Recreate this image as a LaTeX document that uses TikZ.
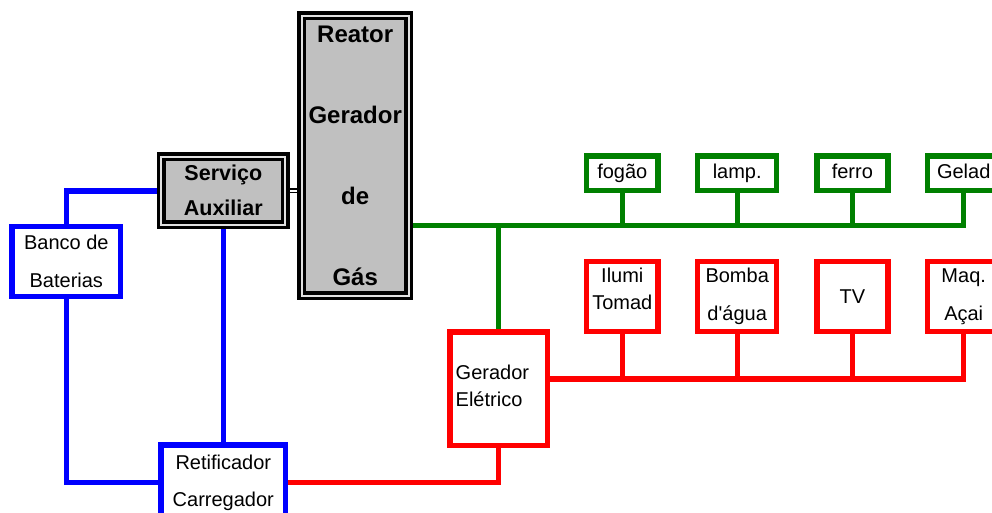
\documentclass[tikz,border=0pt]{standalone}
\usepackage{fontspec}
\setmainfont{Liberation Sans}[Ligatures=TeXOff]
\usepackage{tikz}
\usetikzlibrary{backgrounds,calc}
\definecolor{fiogreen}{RGB}{0,128,0}
\definecolor{gasgray}{RGB}{192,192,192}
\definecolor{gapgray}{RGB}{225,225,225}
\tikzstyle{gasblk}=[draw=black, double=gapgray, double distance=2pt,% double black frame
line width=3.5pt, fill=gasgray, inner sep=0pt, align=center]
\tikzstyle{loadblk}=[draw, fill=white, line width=5.4pt, inner sep=0pt,
align=center, font=\fontsize{20}{38}\selectfont]
\tikzstyle{gblk}=[loadblk, draw=fiogreen, minimum height=34.6pt, text height=14.5pt, text depth=4.2pt]
\tikzstyle{rblk}=[loadblk, draw=red, minimum height=69.9pt]
\tikzstyle{bblk}=[loadblk, draw=blue]
\tikzstyle{gwire}=[draw=fiogreen, line width=5.4pt]
\tikzstyle{rwire}=[draw=red, line width=5.4pt]
\tikzstyle{bwire}=[draw=blue, line width=5.4pt]
\tikzstyle{dwire}=[draw=black, double=white, double distance=2pt, line width=1.5pt]

\begin{document}
\begin{tikzpicture}[x=1pt,y=-1pt]
\useasboundingbox (0,0) rectangle (992,513);
\node[gasblk, minimum width=106.6pt, minimum height=279.6pt, font=\bfseries\fontsize{24}{81}\selectfont] (reator) at (355.2,155.7) {Reator\\Gerador\\de\\Gás};
\node[gasblk, minimum width=123.9pt, minimum height=67.6pt, font=\bfseries\fontsize{21.5}{35}\selectfont] (serv) at (223.3,190.8) {Serviço\\Auxiliar};
\node[bblk, minimum width=108.6pt, minimum height=69.9pt] (banco) at (66.3,261.7) {Banco de\\Baterias};
\node[bblk, minimum width=124.6pt, minimum height=75pt, font=\fontsize{20}{37}\selectfont] (retif) at (223.3,482.5) {Retificador\\Carregador};
\node[rblk, minimum width=97.3pt, minimum height=113.5pt, text width=86pt, align=left, font=\fontsize{20}{27.7}\selectfont, text depth=34pt] (gerel) at (498.7,388.8) {Gerador\\Elétrico};
% cargas do reator
\node[gblk, minimum width=71.3pt] (fogao) at (622.3,173.3) {fogão};
\node[gblk, minimum width=78.9pt] (lamp) at (737.2,173.3) {lamp.};
\node[gblk, minimum width=71pt] (ferro) at (852.3,173.3) {ferro};
\node[gblk, minimum width=72pt] (gelad) at (963.7,173.3) {Gelad};
% cargas do gerador
\node[rblk, minimum width=71.3pt, font=\fontsize{20}{27}\selectfont, text depth=16.5pt] (ilumi) at (622.3,296.7) {Ilumi\\Tomad};
\node[rblk, minimum width=78.9pt] (bomba) at (737.2,296.7) {Bomba\\d'água};
\node[rblk, minimum width=71pt] (tv) at (852.3,296.7) {TV};
\node[rblk, minimum width=72pt] (maq) at (963.7,296.7) {Maq.\\Açai};
\begin{scope}[on background layer]
\coordinate (gbus) at (498.7,225.7);
\coordinate (rbus) at (547,379);
\draw[gwire] (reator.east |- gbus) -- (gelad.south |- gbus) -- (gelad.south);
\foreach \ld in {fogao,lamp,ferro}
  \draw[gwire] (\ld.south) -- (\ld.south |- gbus);
\draw[gwire] (gerel.north |- gbus) -- (gerel.north);
\draw[rwire] (gerel.east |- rbus) -- (maq.south |- rbus) -- (maq.south);
\foreach \ld in {ilumi,bomba,tv}
  \draw[rwire] (\ld.south) -- (\ld.south |- rbus);
\draw[rwire] (retif.east) -- (retif.east -| gerel.south) -- (gerel.south);
\draw[bwire] (serv.west) -- (serv.west -| banco.north) -- (banco.north);
\draw[bwire] (banco.south) -- (banco.south |- retif.west) -- (retif.west);
\draw[bwire] (serv.south) -- (serv.south |- retif.north);
\draw[dwire] (serv.east) -- (serv.east -| reator.west);
\end{scope}
\end{tikzpicture}
\end{document}
